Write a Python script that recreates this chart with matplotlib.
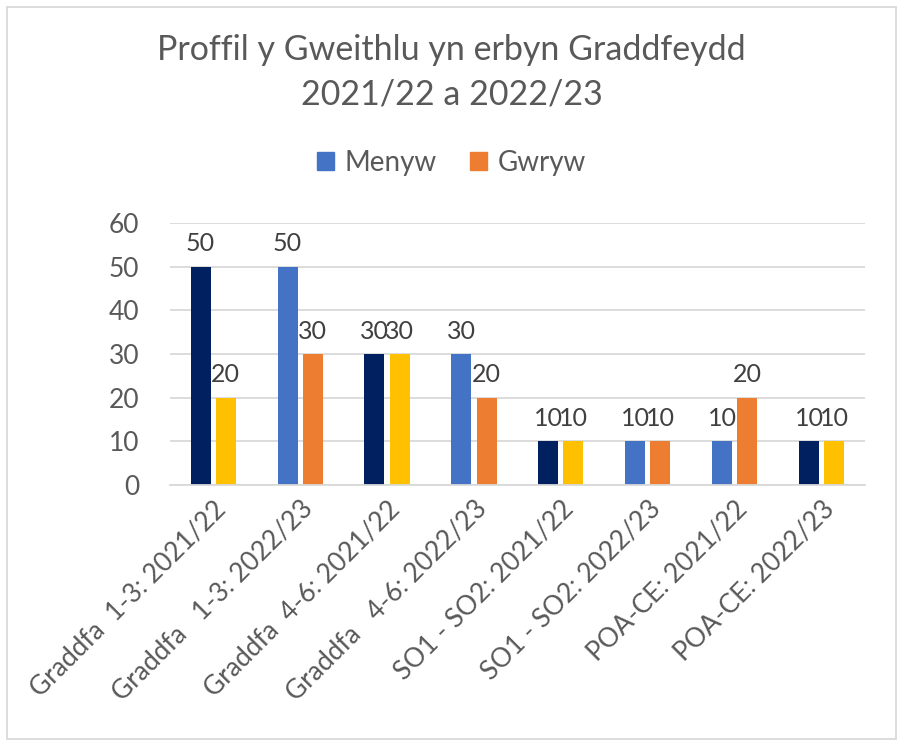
import numpy as np
import matplotlib.pyplot as plt
from matplotlib.patches import Patch, Rectangle

# data
categories = ['Graddfa  1-3: 2021/22', 'Graddfa   1-3: 2022/23', 'Graddfa  4-6: 2021/22',
              'Graddfa   4-6: 2022/23', 'SO1 - SO2: 2021/22', 'SO1 - SO2: 2022/23',
              'POA-CE: 2021/22', 'POA-CE: 2022/23']
menyw = [50, 50, 30, 30, 10, 10, 10, 10]
gwryw = [20, 30, 30, 20, 10, 10, 20, 10]
# some points were recoloured in the original sheet
highlight = [True, False, True, False, True, False, False, True]

plt.rcParams['font.family'] = ['Lato', 'DejaVu Sans']
txt = '#595959'

fig = plt.figure(figsize=(9.03, 7.46), dpi=100)
ax = fig.add_axes([0.188, 0.35, 0.77, 0.351])

x = np.arange(len(categories))
w = 0.23
c_m = ['#002060' if h else '#4472C4' for h in highlight]
c_g = ['#FFC000' if h else '#ED7D31' for h in highlight]
ax.bar(x - 0.145, menyw, w, color=c_m)
ax.bar(x + 0.145, gwryw, w, color=c_g)

for i in range(len(x)):
    ax.text(x[i] - 0.145, menyw[i] + 2.6, str(menyw[i]), ha='center', va='bottom',
            fontsize=18, color='#404040')
    ax.text(x[i] + 0.145, gwryw[i] + 2.6, str(gwryw[i]), ha='center', va='bottom',
            fontsize=18, color='#404040')

ax.set_ylim(0, 60)
ax.set_xlim(-0.5, len(x) - 0.5)
ax.set_yticks(range(0, 61, 10))
ax.yaxis.grid(True, color='#D9D9D9', linewidth=1.3)
ax.set_axisbelow(True)
for s in ['top', 'right', 'left']:
    ax.spines[s].set_visible(False)
ax.spines['bottom'].set_color('#D9D9D9')
ax.spines['bottom'].set_linewidth(1.3)
ax.tick_params(axis='y', length=0, labelsize=19, colors=txt, pad=22)
ax.tick_params(axis='x', length=0, labelsize=19, colors=txt, pad=8)
ax.set_xticks(x)
ax.set_xticklabels(categories, rotation=45, ha='right', rotation_mode='anchor')

fig.text(0.5, 0.903, 'Proffil y Gweithlu yn erbyn Graddfeydd\n2021/22 a 2022/23',
         ha='center', va='center', fontsize=24.5, color=txt, linespacing=1.5)

handles = [Patch(color='#4472C4'), Patch(color='#ED7D31')]
fig.legend(handles, ['Menyw', 'Gwryw'], loc='center', bbox_to_anchor=(0.5, 0.782),
           ncol=2, frameon=False, fontsize=20, labelcolor=txt, handlelength=0.6,
           handleheight=0.6, handletextpad=0.4, columnspacing=1.2)

fig.patches.append(Rectangle((0.008, 0.01), 0.984, 0.98, transform=fig.transFigure,
                             fill=False, edgecolor='#D9D9D9', linewidth=1.3))

fig.savefig('out.png', dpi=100)
